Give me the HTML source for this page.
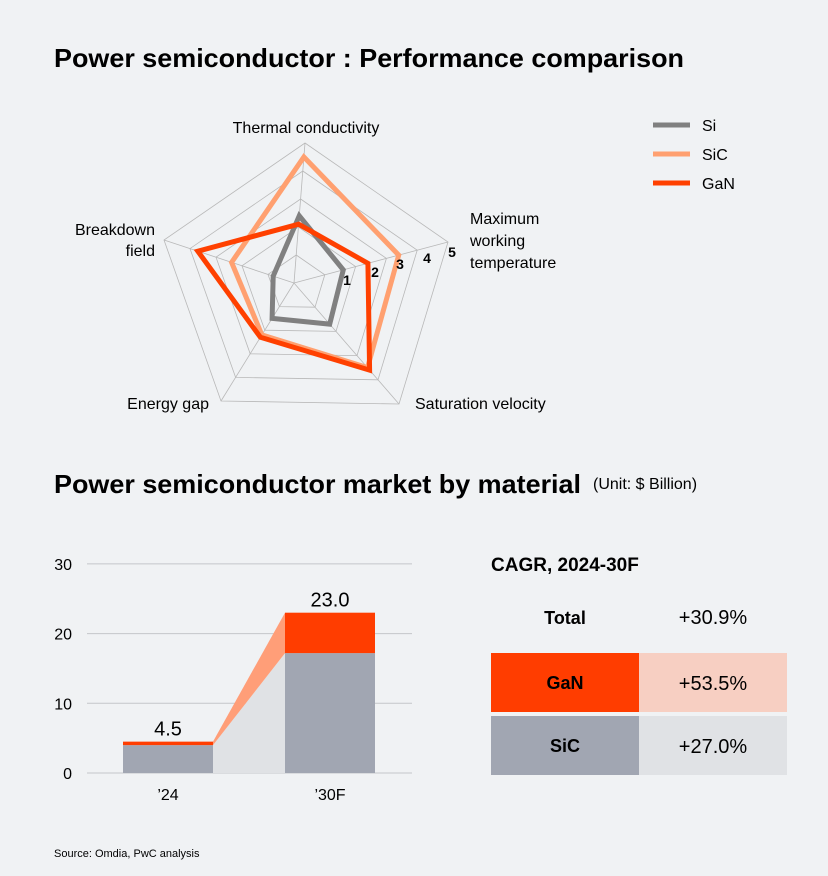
<!DOCTYPE html>
<html><head><meta charset="utf-8"><style>
html,body{margin:0;padding:0;background:#f0f2f4;}
svg{display:block;font-family:"Liberation Sans",Arial,sans-serif;}
</style></head><body>
<svg id="c" width="828" height="876" viewBox="0 0 828 876">
<rect width="828" height="876" fill="#f0f2f4"/>
<text x="54" y="67" font-size="26" font-weight="bold" textLength="630" lengthAdjust="spacingAndGlyphs" fill="#000">Power semiconductor : Performance comparison</text>
<g id="radar"></g>
<g>
 <g><line x1="653" y1="125" x2="690" y2="125" stroke="#808080" stroke-width="5"/><text x="702" y="131" font-size="16">Si</text></g>
 <g><line x1="653" y1="154" x2="690" y2="154" stroke="#ffa070" stroke-width="5"/><text x="702" y="160" font-size="16">SiC</text></g>
 <g><line x1="653" y1="183" x2="690" y2="183" stroke="#ff4000" stroke-width="5"/><text x="702" y="189" font-size="16">GaN</text></g>
</g>
<text x="54" y="493" font-size="26" font-weight="bold" textLength="527" lengthAdjust="spacingAndGlyphs">Power semiconductor market by material</text>
<text x="593" y="489" font-size="16">(Unit: $ Billion)</text>
<g id="bars"></g>
<g>
 <text x="491" y="571" font-size="19" font-weight="bold">CAGR, 2024-30F</text>
 <text x="565" y="624" font-size="18" font-weight="bold" text-anchor="middle">Total</text>
 <text x="713" y="624" font-size="20" text-anchor="middle">+30.9%</text>
 <rect x="491" y="653" width="148" height="59" fill="#ff3d00"/>
 <rect x="639" y="653" width="148" height="59" fill="#f7cfc2"/>
 <text x="565" y="689" font-size="18" font-weight="bold" text-anchor="middle">GaN</text>
 <text x="713" y="690" font-size="20" text-anchor="middle">+53.5%</text>
 <rect x="491" y="716" width="148" height="59" fill="#a1a6b2"/>
 <rect x="639" y="716" width="148" height="59" fill="#e0e2e5"/>
 <text x="565" y="752" font-size="18" font-weight="bold" text-anchor="middle">SiC</text>
 <text x="713" y="753" font-size="20" text-anchor="middle">+27.0%</text>
</g>
<text x="54" y="857" font-size="11">Source: Omdia, PwC analysis</text>
</svg>
<script>
const NS="http://www.w3.org/2000/svg";
// radar data
const radarAxes=["Thermal conductivity","Maximum working temperature","Saturation velocity","Energy gap","Breakdown field"];
const siValues=[2.4,1.6,1.7,1.5,0.8];
const sicValues=[4.5,3.4,3.5,2.2,2.4];
const ganValues=[2.1,2.4,3.6,2.3,3.7];
const radarTicks=["1","2","3","4","5"];
// bar data
const barCategories=["\u201924","\u201930F"];
const sicMarket=[4.0,17.2];
const ganMarket=[0.5,5.8];
const totalLabels=["4.5","23.0"];
const yTicks=[0,10,20,30];

function mk(tag,attrs,parent){const e=document.createElementNS(NS,tag);for(const k in attrs)e.setAttribute(k,attrs[k]);parent.appendChild(e);return e;}

const cx=294,cy=283;
const outer=[[305,143],[448,242],[399,404],[221,401],[164,240]];
function rp(i,v){return [cx+(outer[i][0]-cx)*v/5, cy+(outer[i][1]-cy)*v/5];}
const radar=document.getElementById('radar');
for(let k=1;k<=5;k++){
  const p=mk('polygon',{points:outer.map((_,i)=>rp(i,k).join(',')).join(' '),fill:'none',stroke:'#b8b8b8','stroke-width':0.8},radar);
  
  
}
outer.forEach((o,i)=>{
  const l=mk('line',{x1:cx,y1:cy,x2:o[0],y2:o[1],stroke:'#b8b8b8','stroke-width':0.8},radar);
  
  
});
const series=[[siValues,'#808080','radar-series-si'],[sicValues,'#ffa070','radar-series-sic'],[ganValues,'#ff4000','radar-series-gan']];
series.forEach(s=>{
  const p=mk('polygon',{points:s[0].map((v,i)=>rp(i,v).join(',')).join(' '),fill:'none',stroke:s[1],'stroke-width':5,'stroke-linejoin':'miter'},radar);
  
  
});
const tickPos=[[347,285],[375,277],[400,269],[427,263],[452,257]];
radarTicks.forEach((t,i)=>{
  const e=mk('text',{x:tickPos[i][0],y:tickPos[i][1],'text-anchor':'middle','font-size':14,'font-weight':'bold'},radar);
  e.textContent=t;
  
  
});
const axisLabels=[
 [[306,133,'middle','Thermal conductivity']],
 [[470,224,'start','Maximum'],[470,246,'start','working'],[470,268,'start','temperature']],
 [[415,409,'start','Saturation velocity']],
 [[209,409,'end','Energy gap']],
 [[155,235,'end','Breakdown'],[155,256,'end','field']]
];
axisLabels.forEach((lines,i)=>{lines.forEach(l=>{
  const e=mk('text',{x:l[0],y:l[1],'text-anchor':l[2],'font-size':16},radar);
  e.textContent=l[3];
  
  
});});

const bars=document.getElementById('bars');
const y0=773,pxPer=6.97,gx1=87,gx2=412;
const Y=v=>y0-v*pxPer;
const barX=[123,285],barW=90;
yTicks.forEach(t=>{
  const l=mk('line',{x1:gx1,y1:Y(t),x2:gx2,y2:Y(t),stroke:'#c4c6ca','stroke-width':1},bars);
  
  
  const e=mk('text',{x:72,y:Y(t)+6,'text-anchor':'end','font-size':16},bars);
  e.textContent=t;
  
  
});
const xa=barX[0]+barW,xb=barX[1];
const gc=mk('polygon',{points:`${xa},${Y(sicMarket[0])} ${xb},${Y(sicMarket[1])} ${xb},${Y(0)} ${xa},${Y(0)}`,fill:'#e0e2e5'},bars);


const oc=mk('polygon',{points:`${xa},${Y(sicMarket[0]+ganMarket[0])} ${xb},${Y(sicMarket[1]+ganMarket[1])} ${xb},${Y(sicMarket[1])} ${xa},${Y(sicMarket[0])}`,fill:'#ff9e78'},bars);


barCategories.forEach((c,i)=>{
  const s=mk('rect',{x:barX[i],y:Y(sicMarket[i]),width:barW,height:sicMarket[i]*pxPer,fill:'#a1a6b2'},bars);
  
  
  const g=mk('rect',{x:barX[i],y:Y(sicMarket[i]+ganMarket[i]),width:barW,height:ganMarket[i]*pxPer,fill:'#ff3d00'},bars);
  
  
  const t=mk('text',{x:barX[i]+barW/2,y:Y(sicMarket[i]+ganMarket[i])-6,'text-anchor':'middle','font-size':20},bars);
  t.textContent=totalLabels[i];
  
  
  const x=mk('text',{x:barX[i]+barW/2,y:800,'text-anchor':'middle','font-size':16},bars);
  x.textContent=c;
  
  
});
</script>
</body></html>
